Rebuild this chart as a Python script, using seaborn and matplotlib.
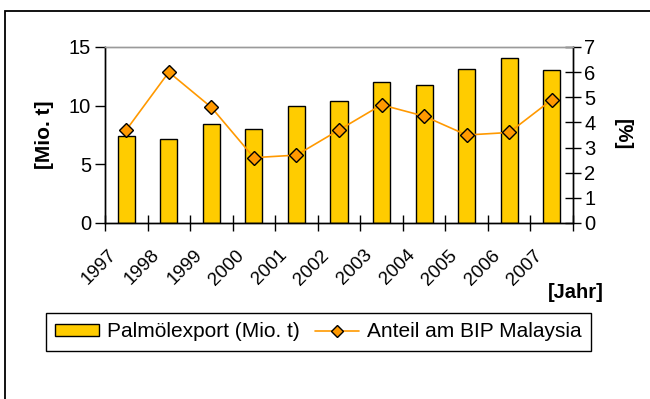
import numpy as np
import pandas as pd
import matplotlib
matplotlib.use("Agg")
import matplotlib.pyplot as plt
import matplotlib.transforms as mtransforms
from matplotlib.patches import Patch, Rectangle
from matplotlib.lines import Line2D
import seaborn as sns

# Palm oil export of Malaysia and its share of GDP
years = ["1997", "1998", "1999", "2000", "2001", "2002",
         "2003", "2004", "2005", "2006", "2007"]
export_mio_t = [7.4, 7.2, 8.4, 8.0, 10.0, 10.4, 12.0, 11.8, 13.1, 14.1, 13.0]
gdp_share_pct = [3.7, 6.0, 4.6, 2.6, 2.7, 3.7, 4.7, 4.25, 3.5, 3.6, 4.9]

bar_label = "Palmölexport (Mio. t)"
line_label = "Anteil am BIP Malaysia"

BAR_COLOR = "#FFCC00"
LINE_COLOR = "#FF9900"

sns.set_theme(style="white")
plt.rcParams["font.family"] = ["Liberation Sans", "DejaVu Sans"]
plt.rcParams.update({
    "text.color": "black",
    "axes.labelcolor": "black",
    "xtick.color": "black",
    "ytick.color": "black",
})

df = pd.DataFrame({"Jahr": years, "Export": export_mio_t, "Anteil": gdp_share_pct})

fig = plt.figure(figsize=(6.5, 3.99), dpi=100)
ax = fig.add_axes([105 / 650, 1 - 223 / 399, 468 / 650, 176 / 399])

sns.barplot(data=df, x="Jahr", y="Export", ax=ax, color=BAR_COLOR,
            saturation=1, width=0.4, edgecolor="black", linewidth=1.0)

ax2 = ax.twinx()
pos = np.arange(len(years))
sns.lineplot(x=pos, y=df["Anteil"], ax=ax2, color=LINE_COLOR, linewidth=1.2,
             marker="D", markersize=7, markerfacecolor=LINE_COLOR,
             markeredgecolor="black", markeredgewidth=1.0)

# axis ranges
ax.set_xlim(-0.5, len(years) - 0.5)
ax.set_ylim(0, 15)
ax2.set_ylim(0, 7)
ax.set_yticks([0, 5, 10, 15])
ax2.set_yticks(range(0, 8))

# spines
for a in (ax, ax2):
    for side in ("left", "right", "bottom"):
        a.spines[side].set_color("black")
        a.spines[side].set_linewidth(1.0)
    a.spines["top"].set_color("#9a9a9a")
    a.spines["top"].set_linewidth(1.0)
    a.grid(False)

ax.set_xlabel("")
ax.set_ylabel("[Mio. t]", fontsize=15, fontweight="bold", labelpad=11)
ax2.set_ylabel("[%]", fontsize=14.5, fontweight="bold", rotation=270,
               labelpad=26)

# left axis ticks
ax.tick_params(axis="y", which="major", direction="out", length=7, width=1,
               color="black", labelsize=14.5, pad=3, left=True)
# right axis ticks crossing the spine
ax2.tick_params(axis="y", which="major", direction="inout", length=12, width=1,
                color="black", labelsize=14.5, pad=2, right=True)

# category boundaries carry the tick marks, labels sit on category centres
ax.set_xticks(pos)
ax.set_xticks(np.arange(-0.5, len(years), 1.0), minor=True)
ax.tick_params(axis="x", which="major", length=0, labelsize=13.5, pad=17)
ax.tick_params(axis="x", which="minor", direction="inout", length=12, width=1,
               color="black", bottom=True)
ax.set_xticklabels(years)
shift = mtransforms.ScaledTranslation(-18 / 100, 0, fig.dpi_scale_trans)
for lbl in ax.get_xticklabels():
    lbl.set_rotation(45)
    lbl.set_ha("right")
    lbl.set_va("top")
    lbl.set_rotation_mode("anchor")
    lbl.set_transform(lbl.get_transform() + shift)

fig.text(576 / 650, 1 - 292 / 399, "[Jahr]", fontsize=14.5, fontweight="bold",
         ha="center", va="center")

# legend below the chart
handles = [
    Patch(facecolor=BAR_COLOR, edgecolor="black", linewidth=1.0, label=bar_label),
    Line2D([0], [0], color=LINE_COLOR, linewidth=1.2, marker="D", markersize=6,
           markerfacecolor=LINE_COLOR, markeredgecolor="black",
           markeredgewidth=1.0, label=line_label),
]
leg = fig.legend(handles=handles, ncol=2, loc="upper left",
                 bbox_to_anchor=(46 / 650, 1 - 313 / 399),
                 fontsize=15, frameon=True, fancybox=False, framealpha=1,
                 edgecolor="black", borderpad=0.45, handlelength=2.1,
                 handleheight=0.55, handletextpad=0.38, columnspacing=0.75,
                 borderaxespad=0)
leg.get_frame().set_linewidth(1.0)

# outer chart frame
fig.add_artist(Rectangle((5 / 650, -0.2), 2.0, 1.2 - 11 / 399, fill=False,
                         edgecolor="black", linewidth=1.3,
                         transform=fig.transFigure, clip_on=False))

fig.savefig("out.png", dpi=100)
